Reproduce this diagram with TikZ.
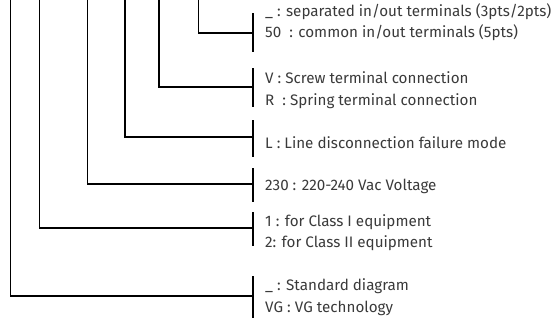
\documentclass[tikz,border=0pt]{standalone}
\usepackage{fontspec}
\setmainfont{Fira Sans}
\usepackage{tikz}
\definecolor{txtgray}{HTML}{3A3A3A}
\tikzset{
  lead/.style={line width=1.5pt},
  code/.style={anchor=base west, inner sep=0pt, text=txtgray, font=\fontsize{15.2}{17}\selectfont}
}

\begin{document}
\begin{tikzpicture}[x=1pt,y=-1pt]
\useasboundingbox (0,0) rectangle (556,322);
% one lead per code position, each ending on its bar
\foreach \n/\x/\y/\t/\b in {a/198.5/33/13/52, b/159/87/68/107, c/125/137/120/157, d/87.5/184/168/202, e/39.5/228/212/246, f/10.5/296/276/318}{
  \coordinate (top\n) at (\x,0);
  \coordinate (mid\n) at (253,\y);
  \coordinate (hi\n) at (253,\t);
  \coordinate (lo\n) at (253,\b);
  \draw[lead] (top\n) |- (mid\n);
  \draw[lead] (hi\n) -- (lo\n);
}
% texts
\node[code] (sepa) at (265,16) {\_ : separated in/out terminals (3pts/2pts)};
\node[code] (comm) at (265,37) {50\ \ : common in/out terminals (5pts)};
\node[code] (screw) at (265,83) {V : Screw terminal connection};
\node[code] (spring) at (265,105) {R\ \ : Spring terminal connection};
\node[code] (line) at (265,148) {L : Line disconnection failure mode};
\node[code] (volt) at (265,190) {230 : 220-240 Vac Voltage};
\node[code] (cls1) at (265,226) {1 : for Class I equipment};
\node[code] (cls2) at (265,247) {2: for Class II equipment};
\node[code] (std) at (265,290) {\_ : Standard diagram};
\node[code] (vg) at (265,312) {VG : VG technology};
\end{tikzpicture}
\end{document}
